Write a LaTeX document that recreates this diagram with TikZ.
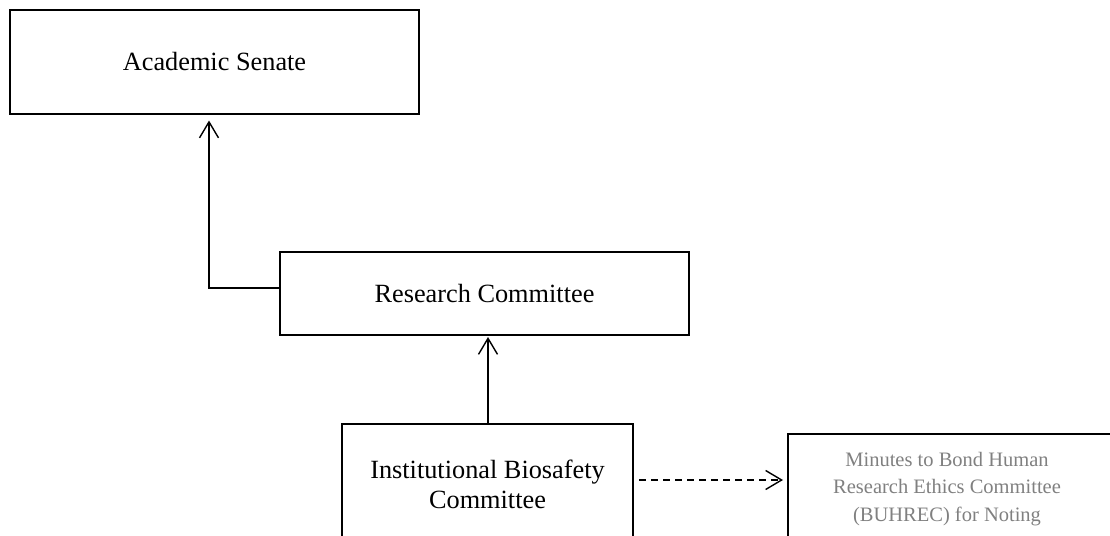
\documentclass[tikz,border=0pt]{standalone}
\usepackage{fontspec}
\setmainfont{Liberation Serif}
\usetikzlibrary{arrows.meta}
\definecolor{notegray}{RGB}{128,128,128}
\tikzset{
  box/.style={draw=black, line width=2pt, fill=white, outer sep=0pt, inner sep=0pt,
    font=\fontsize{26.3}{30}\selectfont, align=center},
  conn/.style={line width=1.4pt, -{Straight Barb[length=16pt,width=19pt,line width=1.4pt]}},
  notetext/.style={text=notegray, font=\fontsize{20.5}{27.5}\selectfont, align=center, inner sep=0pt}
}
\begin{document}
\begin{tikzpicture}[x=1pt,y=-1pt]
\useasboundingbox (0,0) rectangle (1110,535);
\clip (0,0) rectangle (1110,535);
\fill[white] (0,0) rectangle (1110,535);
\node[box, minimum width=409pt, minimum height=104pt] (senate) at (214.5,62) {Academic Senate};
\node[box, minimum width=409pt, minimum height=83pt] (rc) at (484.5,293.5) {Research Committee};
\node[box, minimum width=291pt, minimum height=120pt] (ibc) at (487.5,484) {Institutional Biosafety\\Committee};
\node[box, minimum width=330pt, minimum height=106pt, anchor=north west] (min) at (788,434) {};
\node[notetext] (mintext) at (947,489) {Minutes to Bond Human\\Research Ethics Committee\\(BUHREC) for Noting};
\draw[conn, shorten >=6.5pt] ([yshift=5.5pt]rc.west) -| ([xshift=-5.5pt]senate.south);
\draw[conn, shorten >=2pt] (ibc.north -| 488,0) -- (rc.south -| 488,0);
\draw[conn, dash pattern=on 7pt off 5pt, shorten <=6pt, shorten >=5pt] ([yshift=4pt]ibc.east) -- ([yshift=4pt]ibc.east -| min.west);
\end{tikzpicture}
\end{document}
